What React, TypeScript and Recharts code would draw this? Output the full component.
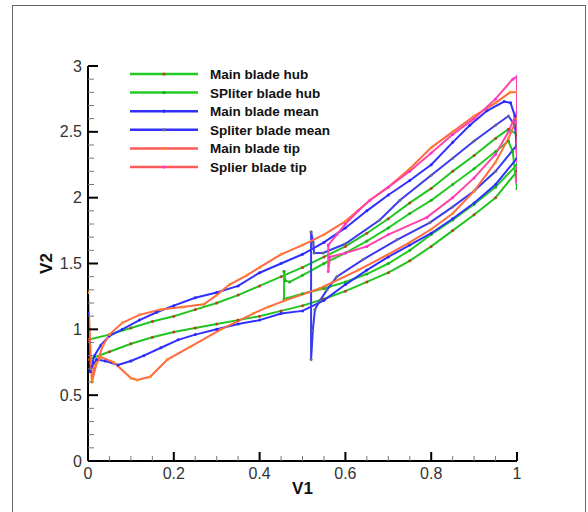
import React from 'react';
import { LineChart, Line, XAxis, YAxis, Legend } from 'recharts';

// ---- data (V1 = x, V2 = y), each loop: leading edge -> upper side -> trailing edge -> lower side
const mainHubV1 = [0, 0.05, 0.1, 0.15, 0.2, 0.25, 0.3, 0.35, 0.4, 0.45, 0.5, 0.55, 0.6, 0.65, 0.7, 0.75, 0.8, 0.85, 0.9, 0.95, 0.98, 1.0, 1.0, 0.95, 0.9, 0.85, 0.8, 0.75, 0.7, 0.65, 0.6, 0.55, 0.5, 0.45, 0.4, 0.35, 0.3, 0.25, 0.2, 0.15, 0.1, 0.05, 0, 0];
const mainHubV2 = [0.92, 0.96, 1.01, 1.06, 1.1, 1.15, 1.2, 1.26, 1.33, 1.4, 1.47, 1.55, 1.63, 1.73, 1.84, 1.96, 2.07, 2.2, 2.32, 2.45, 2.52, 2.48, 2.2, 2.0, 1.87, 1.75, 1.63, 1.52, 1.43, 1.36, 1.29, 1.23, 1.18, 1.14, 1.1, 1.07, 1.04, 1.01, 0.98, 0.94, 0.89, 0.83, 0.77, 0.92];

const splitHubV1 = [0.457, 0.46, 0.47, 0.5, 0.55, 0.6, 0.65, 0.7, 0.75, 0.8, 0.85, 0.9, 0.95, 0.98, 0.99, 1.0, 1.0, 0.95, 0.9, 0.85, 0.8, 0.75, 0.7, 0.65, 0.6, 0.55, 0.5, 0.457, 0.457];
const splitHubV2 = [1.44, 1.37, 1.36, 1.41, 1.5, 1.58, 1.67, 1.77, 1.88, 1.98, 2.1, 2.22, 2.35, 2.43, 2.35, 2.07, 2.25, 2.08, 1.95, 1.83, 1.72, 1.6, 1.5, 1.42, 1.36, 1.31, 1.27, 1.23, 1.44];

const mainMeanV1 = [0, 0.005, 0.015, 0.03, 0.05, 0.08, 0.12, 0.16, 0.2, 0.25, 0.3, 0.35, 0.4, 0.45, 0.5, 0.55, 0.6, 0.65, 0.7, 0.75, 0.8, 0.85, 0.89, 0.93, 0.97, 0.985, 0.995, 1.0, 0.95, 0.9, 0.85, 0.8, 0.75, 0.7, 0.65, 0.6, 0.55, 0.5, 0.45, 0.4, 0.35, 0.3, 0.25, 0.21, 0.17, 0.13, 0.1, 0.07, 0.04, 0.02, 0.01, 0.005];
const mainMeanV2 = [1.12, 0.68, 0.8, 0.88, 0.95, 1.0, 1.07, 1.13, 1.18, 1.24, 1.28, 1.33, 1.43, 1.5, 1.57, 1.66, 1.77, 1.9, 2.02, 2.13, 2.25, 2.42, 2.55, 2.66, 2.73, 2.72, 2.62, 2.3, 2.1, 1.96, 1.84, 1.73, 1.64, 1.55, 1.45, 1.34, 1.22, 1.14, 1.12, 1.07, 1.04, 1.0, 0.96, 0.92, 0.86, 0.8, 0.76, 0.73, 0.76, 0.77, 0.72, 0.68];

const splitMeanV1 = [0.52, 0.525, 0.527, 0.548, 0.6, 0.68, 0.727, 0.8, 0.85, 0.9, 0.95, 0.98, 0.995, 1.0, 1.0, 0.95, 0.9, 0.85, 0.797, 0.72, 0.641, 0.58, 0.557, 0.541, 0.529, 0.524, 0.52, 0.52];
const splitMeanV2 = [1.74, 1.66, 1.58, 1.58, 1.65, 1.83, 1.98, 2.17, 2.3, 2.43, 2.55, 2.62, 2.55, 2.45, 2.4, 2.2, 2.05, 1.93, 1.81, 1.68, 1.53, 1.4, 1.3, 1.22, 1.15, 0.99, 0.77, 1.74];

const mainTipV1 = [0.0, 0.009, 0.02, 0.035, 0.05, 0.08, 0.12, 0.17, 0.22, 0.27, 0.3, 0.33, 0.37, 0.4, 0.45, 0.5, 0.55, 0.6, 0.657, 0.7, 0.75, 0.8, 0.85, 0.9, 0.95, 0.984, 1.0, 1.0, 0.98, 0.95, 0.9, 0.85, 0.8, 0.75, 0.7, 0.63, 0.54, 0.46, 0.42, 0.385, 0.31, 0.24, 0.185, 0.145, 0.115, 0.1, 0.06, 0.03, 0.015, 0.01];
const mainTipV2 = [1.28, 0.6, 0.74, 0.88, 0.96, 1.05, 1.11, 1.15, 1.17, 1.19, 1.26, 1.34, 1.41, 1.47, 1.57, 1.64, 1.72, 1.82, 1.98, 2.08, 2.22, 2.38, 2.5, 2.62, 2.72, 2.8, 2.8, 2.6, 2.45, 2.27, 2.05, 1.88, 1.76, 1.66, 1.57, 1.45, 1.31, 1.22, 1.17, 1.12, 1.0, 0.87, 0.77, 0.64, 0.615, 0.63, 0.75, 0.79, 0.72, 0.62];

const splitTipV1 = [0.56, 0.58, 0.6, 0.63, 0.657, 0.7, 0.75, 0.8, 0.85, 0.9, 0.95, 0.99, 1.0, 1.0, 1.0, 0.98, 0.95, 0.9, 0.85, 0.79, 0.7, 0.65, 0.6, 0.564, 0.56, 0.56];
const splitTipV2 = [1.64, 1.72, 1.8, 1.9, 1.98, 2.08, 2.2, 2.34, 2.48, 2.6, 2.75, 2.9, 2.92, 2.12, 2.65, 2.5, 2.33, 2.15, 2.0, 1.85, 1.72, 1.63, 1.58, 1.55, 1.44, 1.64];

const seriesNames = ['Main blade hub', 'SPliter blade hub', 'Main blade mean', 'Spliter blade mean', 'Main blade tip', 'Splier blade tip'];

const xTicks = [0, 0.05, 0.1, 0.15, 0.2, 0.25, 0.3, 0.35, 0.4, 0.45, 0.5, 0.55, 0.6, 0.65, 0.7, 0.75, 0.8, 0.85, 0.9, 0.95, 1];
const yTicks = [0, 0.1, 0.2, 0.3, 0.4, 0.5, 0.6, 0.7, 0.8, 0.9, 1, 1.1, 1.2, 1.3, 1.4, 1.5, 1.6, 1.7, 1.8, 1.9, 2, 2.1, 2.2, 2.3, 2.4, 2.5, 2.6, 2.7, 2.8, 2.9, 3];
const xMajor = [0, 0.2, 0.4, 0.6, 0.8, 1];
const yMajor = [0, 0.5, 1, 1.5, 2, 2.5, 3];

const toPts = (a: number[], b: number[]) => a.map((x, i) => ({ x, y: b[i] }));

const series = [
  { name: seriesNames[0], data: toPts(mainHubV1, mainHubV2), stroke: '#22c422', dot: '#b8441e', legendLine: '#22cc22' },
  { name: seriesNames[1], data: toPts(splitHubV1, splitHubV2), stroke: '#22cc22', dot: '#1fae1f', legendLine: '#22cc22' },
  { name: seriesNames[2], data: toPts(mainMeanV1, mainMeanV2), stroke: '#3030ff', dot: '#2a2aff', legendLine: '#3030ff' },
  { name: seriesNames[3], data: toPts(splitMeanV1, splitMeanV2), stroke: '#3a3aee', dot: '#67678f', legendLine: '#3030ff' },
  { name: seriesNames[4], data: toPts(mainTipV1, mainTipV2), stroke: '#ff6a40', dot: '#ff8a20', legendLine: '#ff5a5a' },
  { name: seriesNames[5], data: toPts(splitTipV1, splitTipV2), stroke: '#ff44a8', dot: '#ff30e0', legendLine: '#ff5a5a' },
];

const FONT = 'Liberation Sans, Arial, Helvetica, sans-serif';
const isIn = (v: number, list: number[]) => list.some((m) => Math.abs(m - v) < 1e-6);
const fmt = (v: number) => String(Math.round(v * 10) / 10);

const XTick = (props: any) => {
  const { x, y, payload } = props;
  const major = isIn(payload.value, xMajor);
  return (
    <g>
      <line x1={x} x2={x} y1={y} y2={y - (major ? 9 : 5)} stroke={major ? '#000' : '#777'} strokeWidth={major ? 2 : 1} />
      {major && (
        <text x={x} y={y + 18} textAnchor="middle" fontSize={16} fill="#333" fontFamily={FONT}>
          {fmt(payload.value)}
        </text>
      )}
    </g>
  );
};

const YTick = (props: any) => {
  const { x, y, payload } = props;
  const major = isIn(payload.value, yMajor);
  return (
    <g>
      <line x1={x} x2={x + (major ? 10 : 6)} y1={y} y2={y} stroke={major ? '#000' : '#777'} strokeWidth={major ? 2 : 1} />
      {major && (
        <text x={x - 6} y={y + 5.5} textAnchor="end" fontSize={16} fill="#333" fontFamily={FONT}>
          {fmt(payload.value)}
        </text>
      )}
    </g>
  );
};

const renderLegend = () => (
  <svg width={270} height={116} style={{ display: 'block' }}>
    {series.map((s, i) => (
      <g key={s.name} transform={`translate(0, ${8 + i * 18.6})`}>
        <line x1={10} x2={78} y1={0} y2={0} stroke={s.legendLine} strokeWidth={2.5} />
        <circle cx={44} cy={0} r={1.6} fill={s.dot} />
        <text x={90} y={5} fontSize={13.5} fontWeight="bold" fill="#111" fontFamily={FONT}>
          {s.name}
        </text>
      </g>
    ))}
  </svg>
);

export default function App() {
  return (
    <div style={{ position: 'absolute', left: 0, top: 0, width: 588, height: 512, background: '#fff', overflow: 'hidden' }}>
      <div
        style={{
          position: 'absolute',
          left: 12,
          top: 5,
          width: 574,
          height: 520,
          boxSizing: 'border-box',
          borderTop: '1px solid #666',
          borderLeft: '1px solid #666',
          borderRight: '1px solid #666',
        }}
      />
      <div style={{ position: 'absolute', left: 0, top: 0 }}>
        <LineChart width={588} height={512} margin={{ top: 66, right: 71, bottom: 11, left: 38 }}>
          <XAxis
            dataKey="x"
            type="number"
            domain={[0, 1]}
            ticks={xTicks}
            interval={0}
            tickSize={0}
            tickMargin={0}
            tick={<XTick />}
            height={40}
            axisLine={{ stroke: '#000', strokeWidth: 2 }}
            allowDataOverflow
            label={{
              content: (p: any) => {
                const vb = p.viewBox || {};
                return (
                  <text x={vb.x + vb.width / 2} y={vb.y + 33} textAnchor="middle" fontSize={17} fontWeight="bold" fill="#111" fontFamily={FONT}>
                    V1
                  </text>
                );
              },
            }}
          />
          <YAxis
            dataKey="y"
            type="number"
            domain={[0, 3]}
            ticks={yTicks}
            interval={0}
            tickSize={0}
            tickMargin={0}
            tick={<YTick />}
            width={50}
            axisLine={{ stroke: '#000', strokeWidth: 2 }}
            allowDataOverflow
            label={{
              content: (p: any) => {
                const vb = p.viewBox || {};
                const cx = vb.x + 14;
                const cy = vb.y + vb.height / 2;
                return (
                  <text x={cx} y={cy} transform={`rotate(-90 ${cx} ${cy})`} textAnchor="middle" fontSize={17} fontWeight="bold" fill="#111" fontFamily={FONT}>
                    V2
                  </text>
                );
              },
            }}
          />
          <Legend
            layout="vertical"
            align="center"
            verticalAlign="middle"
            content={renderLegend}
            wrapperStyle={{ left: 120, top: 66, width: 270, height: 116 }}
          />
          {series.map((s) => (
            <Line
              key={s.name}
              name={s.name}
              data={s.data}
              dataKey="y"
              type="linear"
              stroke={s.stroke}
              strokeWidth={2}
              dot={{ r: 1.5, fill: s.dot, stroke: 'none' }}
              activeDot={false}
              isAnimationActive={false}
            />
          ))}
        </LineChart>
      </div>
    </div>
  );
}
